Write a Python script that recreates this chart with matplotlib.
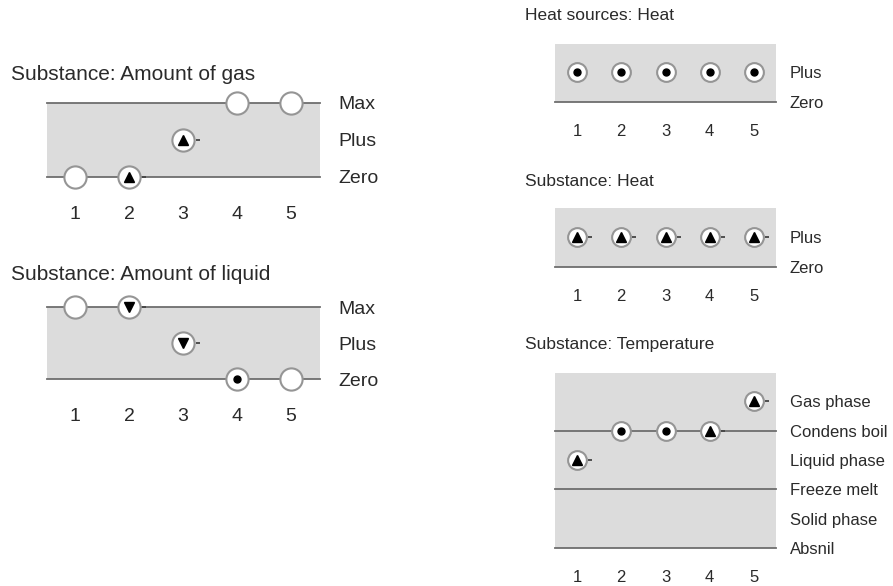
import matplotlib
matplotlib.use("Agg")
import matplotlib.pyplot as plt
from matplotlib.transforms import offset_copy

plt.rcParams['font.family'] = ['Liberation Sans', 'DejaVu Sans']

# time points
steps = [1, 2, 3, 4, 5]

# Substance: Amount of gas
gas_levels = ['Zero', 'Plus', 'Max']
gas_landmarks = [0, 2]
gas_vals = [0, 0, 1, 2, 2]
gas_dirs = ['', 'inc', 'inc', '', '']

# Substance: Amount of liquid
liq_levels = ['Zero', 'Plus', 'Max']
liq_landmarks = [0, 2]
liq_vals = [2, 2, 1, 0, 0]
liq_dirs = ['', 'dec', 'dec', 'std', '']

# Heat sources: Heat
src_levels = ['Zero', 'Plus']
src_landmarks = [0]
src_vals = [1, 1, 1, 1, 1]
src_dirs = ['std', 'std', 'std', 'std', 'std']

# Substance: Heat
heat_levels = ['Zero', 'Plus']
heat_landmarks = [0]
heat_vals = [1, 1, 1, 1, 1]
heat_dirs = ['inc', 'inc', 'inc', 'inc', 'inc']

# Substance: Temperature
temp_levels = ['Absnil', 'Solid phase', 'Freeze melt', 'Liquid phase', 'Condens boil', 'Gas phase']
temp_landmarks = [0, 2, 4]
temp_vals = [3, 4, 4, 4, 5]
temp_dirs = ['inc', 'std', 'std', 'inc', 'inc']

W, H = 893, 586
fig = plt.figure(figsize=(W / 100, H / 100), dpi=100)

GRAY = '#dcdcdc'
LINE = '#6e6e6e'
TXT = '#2a2a2a'


def panel(box, title, title_xy, levels, landmarks, vals, dirs, top, big, fs, tfs, label_pad, num_pad):
    x0, y0, x1, y1 = box
    ax = fig.add_axes([x0 / W, 1 - y1 / H, (x1 - x0) / W, (y1 - y0) / H])
    xl = (0.48, 5.54) if big else (0.5, 5.5)
    ax.set_xlim(*xl)
    ax.set_ylim(0, top)
    ax.axhspan(0, top, color=GRAY, zorder=0)
    for lm in landmarks:
        ax.axhline(lm, color=LINE, lw=1.3, zorder=1, clip_on=False)
    for s in ax.spines.values():
        s.set_visible(False)

    ms = 16 if big else 13.5
    ax.plot(steps, vals, ls='none', marker='o', ms=ms, mfc='white', mec='#959595',
            mew=1.5, zorder=3, clip_on=False)
    tail = offset_copy(ax.transData, fig=fig, x=(15 if big else 13), y=0, units='dots')
    for x, v, d in zip(steps, vals, dirs):
        if d == 'std':
            ax.plot(x, v, marker='o', ms=5, color='black', zorder=4, clip_on=False)
        elif d in ('inc', 'dec'):
            mk = '^' if d == 'inc' else 'v'
            ax.plot(x, v, marker=mk, ms=7 if big else 6.5, color='black', zorder=4, clip_on=False)
            ax.plot(x, v, marker='_', ms=2.5, mew=1.3, color='#444444', transform=tail,
                    zorder=4, clip_on=False)

    ax.set_xticks(steps)
    ax.set_xticklabels([str(s) for s in steps])
    ax.set_yticks(range(len(levels)))
    ax.set_yticklabels(levels)
    ax.yaxis.tick_right()
    ax.tick_params(axis='x', length=0, pad=num_pad, labelsize=fs, labelcolor=TXT)
    ax.tick_params(axis='y', length=0, pad=label_pad, labelsize=fs, labelcolor=TXT)
    ax.tick_params(axis='y', left=False, labelleft=False)

    fig.text(title_xy[0] / W, 1 - title_xy[1] / H, title, fontsize=tfs,
             color=TXT, ha='left', va='center')
    return ax


panel((47, 103, 320, 177), 'Substance: Amount of gas', (11, 74),
      gas_levels, gas_landmarks, gas_vals, gas_dirs, 2, True, 14, 15, 13, 21)
panel((47, 307, 320, 379), 'Substance: Amount of liquid', (11, 274),
      liq_levels, liq_landmarks, liq_vals, liq_dirs, 2, True, 14, 15, 13, 21)

panel((555, 44, 776, 102), 'Heat sources: Heat', (525, 15),
      src_levels, src_landmarks, src_vals, src_dirs, 1.93, False, 12, 12.5, 10, 16)
panel((555, 208, 776, 267), 'Substance: Heat', (525, 181),
      heat_levels, heat_landmarks, heat_vals, heat_dirs, 1.97, False, 12, 12.5, 10, 16)
panel((555, 373, 776, 548), 'Substance: Temperature', (525, 345),
      temp_levels, temp_landmarks, temp_vals, temp_dirs, 5.97, False, 12, 12.5, 10, 16)

fig.savefig('out.png', dpi=100, facecolor='white')
